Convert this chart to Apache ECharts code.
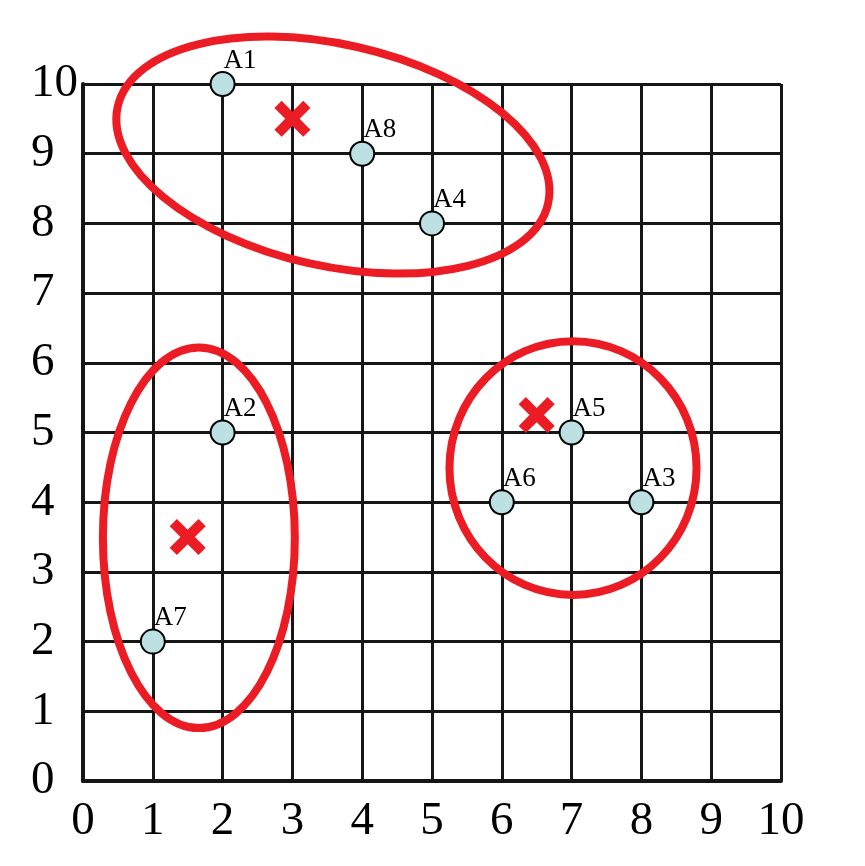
<!DOCTYPE html>
<html>
<head>
<meta charset="utf-8">
<script src="https://cdn.jsdelivr.net/npm/echarts@6/dist/echarts.min.js"></script>
<style>html,body{margin:0;padding:0;background:#fff;}#chart{width:865px;height:866px;}</style>
</head>
<body>
<div id="chart"></div>
<script>
// Axis ticks
const xTicks = [0,1,2,3,4,5,6,7,8,9,10];
const yTicks = [0,1,2,3,4,5,6,7,8,9,10];

// Sample points
const pointNames = ['A1','A8','A4','A2','A7','A6','A5','A3'];
const pointX = [2,4,5,2,1,6,7,8];
const pointY = [10,9,8,5,2,4,5,4];

// Cluster centres (red crosses)
const centreX = [3,1.5,6.5];
const centreY = [9.5,3.5,5.25];

// Cluster outlines (ellipses): centre, half-axes (data units), tilt (deg, clockwise)
const ellipseCX = [3.58,1.66,7.02];
const ellipseCY = [8.98,3.49,4.49];
const ellipseRX = [3.16,1.375,1.77];
const ellipseRY = [1.59,2.73,1.82];
const ellipseTilt = [12.7,0,0];

const RED = '#ec1c24';
const GRIDC = '#161616';
const FONT = 'Liberation Serif';

const chart = echarts.init(document.getElementById('chart'), null, {renderer:'canvas'});

const crossPath = 'path://M0,2 L2,0 L5,3 L8,0 L10,2 L7,5 L10,8 L8,10 L5,7 L2,10 L0,8 L3,5 Z';

chart.setOption({
  animation:false,
  backgroundColor:'#ffffff',
  grid:{left:83, right:84, top:84, bottom:85, containLabel:false},
  xAxis:{
    type:'value', min:xTicks[0], max:xTicks[xTicks.length-1], interval:1,
    axisLine:{show:true, onZero:false, lineStyle:{color:GRIDC, width:4}},
    axisTick:{show:false},
    splitLine:{show:true, lineStyle:{color:GRIDC, width:3}},
    axisLabel:{show:true, margin:17, fontFamily:FONT, fontSize:47, color:'#000',
      formatter:v=> xTicks.indexOf(v)>=0 ? String(v) : ''}
  },
  yAxis:{
    type:'value', min:yTicks[0], max:yTicks[yTicks.length-1], interval:1,
    axisLine:{show:true, onZero:false, lineStyle:{color:GRIDC, width:4}},
    axisTick:{show:false},
    splitLine:{show:true, lineStyle:{color:GRIDC, width:3}},
    axisLabel:{show:true, margin:52, align:'left', fontFamily:FONT, fontSize:47, color:'#000',
      padding:[0,0,8,0],
      formatter:v=> yTicks.indexOf(v)>=0 ? String(v) : ''}
  },
  series:[
    {
      type:'custom', z:3, clip:false, silent:true,
      data: ellipseCX.map((v,i)=>[v, ellipseCY[i], ellipseRX[i], ellipseRY[i], ellipseTilt[i]]),
      renderItem:function(params, api){
        const c = api.coord([api.value(0), api.value(1)]);
        const s = api.size([api.value(2), api.value(3)]);
        return {
          type:'ellipse', x:c[0], y:c[1], rotation: -api.value(4)*Math.PI/180,
          shape:{cx:0, cy:0, rx:s[0], ry:s[1]},
          style:{fill:'none', stroke:RED, lineWidth:8}
        };
      }
    },
    {
      type:'scatter', z:4, symbol:'circle', symbolSize:24,
      itemStyle:{color:'#bde0e2', borderColor:'#000', borderWidth:2, opacity:1},
      data: pointX.map((v,i)=>({name:pointNames[i], value:[v, pointY[i]]})),
      label:{show:true, position:[14,3], align:'left', verticalAlign:'bottom',
        formatter:p=>p.name, fontFamily:FONT, fontSize:27, color:'#000'}
    },
    {
      type:'scatter', z:5, symbol:crossPath, symbolSize:36, symbolKeepAspect:true,
      itemStyle:{color:RED, opacity:1},
      data: centreX.map((v,i)=>[v, centreY[i]])
    }
  ]
});
</script>
</body>
</html>
